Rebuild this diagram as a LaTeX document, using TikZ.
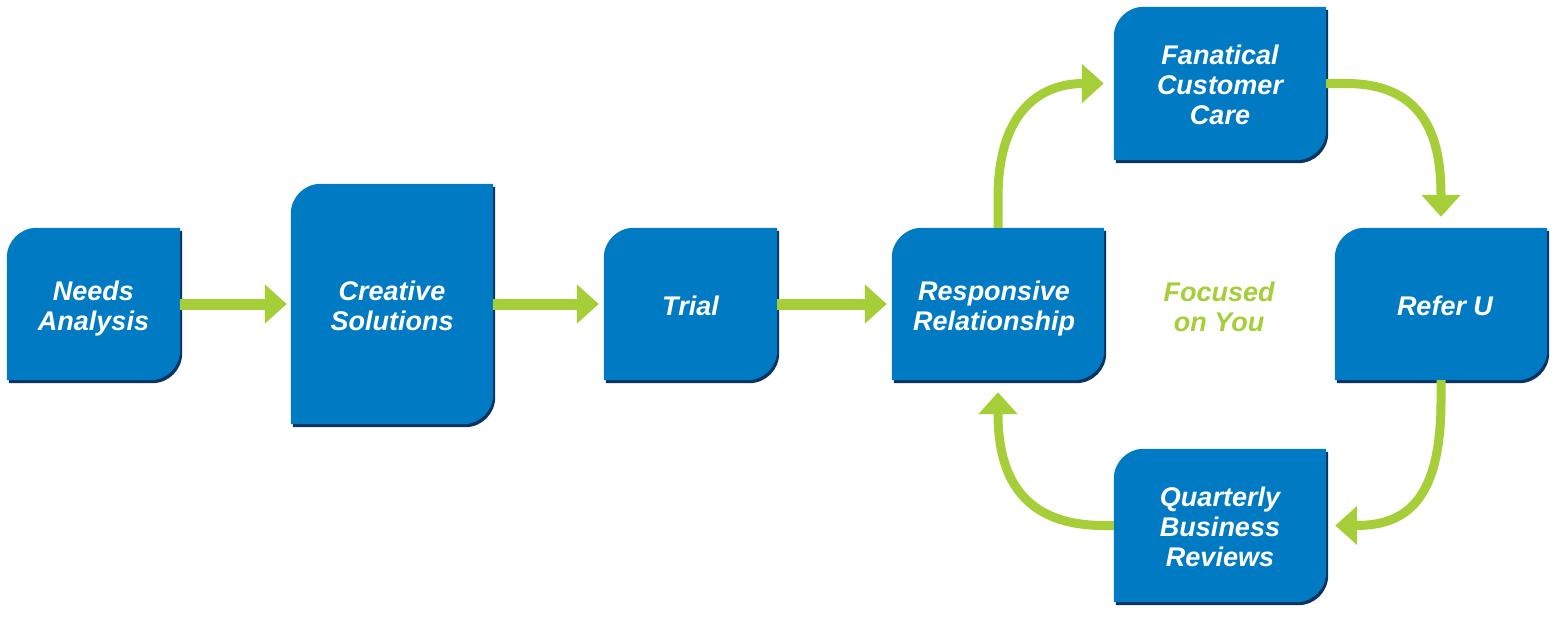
\documentclass[tikz,border=0pt]{standalone}
\usepackage{fontspec}
\setmainfont{Liberation Sans}
\usetikzlibrary{arrows.meta,calc}
\definecolor{boxblue}{RGB}{0,122,194}
\definecolor{boxdark}{RGB}{12,52,96}
\definecolor{agreen}{RGB}{166,206,57}
\pgfdeclarelayer{background}
\pgfsetlayers{background,main}
\newcommand\ml[1]{\smash{\raisebox{-11.5pt}{\begin{tabular}{@{}c@{}}#1\end{tabular}}}}
\tikzset{
  pbox/.style={rectangle, inner sep=0pt, text=white,
    font=\fontsize{27}{30}\selectfont\bfseries\itshape, align=center},
  garrow/.style={draw=agreen, line width=11pt, -{Triangle[length=22pt,width=38pt]}},
  carrow/.style={garrow, line width=9pt},
  gtext/.style={text=agreen, inner sep=0pt, font=\fontsize{27}{30}\selectfont\bfseries\itshape, align=center},
}
\newcommand\boxshape[1]{%
  \fill[boxdark] ([shift={(2pt,-3pt)}]#1.south west) -- ([shift={(2pt,-33pt)}]#1.north west)
    arc[start angle=180,end angle=90,radius=30pt] -- ([shift={(2pt,-3pt)}]#1.north east)
    -- ([shift={(2pt,27pt)}]#1.south east) arc[start angle=0,end angle=-90,radius=30pt] -- cycle;
  \fill[boxblue] (#1.south west) -- ([yshift=-30pt]#1.north west)
    arc[start angle=180,end angle=90,radius=30pt] -- (#1.north east)
    -- ([yshift=30pt]#1.south east) arc[start angle=0,end angle=-90,radius=30pt] -- cycle;
}
\begin{document}
\begin{tikzpicture}[x=1pt,y=-1pt]
\useasboundingbox (0,0) rectangle (1557,618);
\node[pbox, minimum width=173pt, minimum height=152pt] (na) at (93.5,304) {\ml{Needs\\Analysis}};
\node[pbox, minimum width=202pt, minimum height=240pt] (cs) at (392,304) {\ml{Creative\\Solutions}};
\node[pbox, minimum width=173pt, minimum height=152pt] (tr) at (690.5,304) {\ml{Trial}};
\node[pbox, minimum width=212pt, minimum height=152pt] (rr) at (998,304) {\hspace*{-8pt}\ml{Responsive\\Relationship}};
\node[pbox, minimum width=212pt, minimum height=153pt] (fc) at (1220,83.5) {\ml{Fanatical\\Customer\\Care}};
\node[pbox, minimum width=212pt, minimum height=152pt] (ru) at (1441,304) {\hspace*{8pt}\ml{Refer U}};
\node[pbox, minimum width=212pt, minimum height=153pt] (qb) at (1220,525.5) {\ml{Quarterly\\Business\\Reviews}};
\node[gtext] (fy) at (1219,305) {\ml{Focused\\on You}};
\begin{pgfonlayer}{background}
\boxshape{na}
\boxshape{cs}
\boxshape{tr}
\boxshape{rr}
\boxshape{fc}
\boxshape{ru}
\boxshape{qb}
\end{pgfonlayer}
\draw[garrow, shorten >=4pt] (na.east) -- (cs.west);
\draw[garrow, shorten >=5pt] (cs.east |- na.east) -- (tr.west);
\draw[garrow, shorten >=5pt] (tr.east) -- (rr.west);
\draw[carrow, shorten >=10pt] (rr.north) -- ++(0,-30) .. controls +(0,-90) and +(-70,0) .. (fc.west);
\draw[carrow, shorten >=11pt] (fc.east) -- ++(20,0) .. controls +(85,0) and +(0,-80) .. (ru.north);
\draw[carrow, shorten >=9pt] (ru.south) -- ++(0,20) .. controls +(0,100) and +(80,0) .. (qb.east);
\draw[carrow, shorten >=12pt] (qb.west) -- ++(-10,0) .. controls +(-90,0) and +(0,85) .. (rr.south);
\end{tikzpicture}
\end{document}
